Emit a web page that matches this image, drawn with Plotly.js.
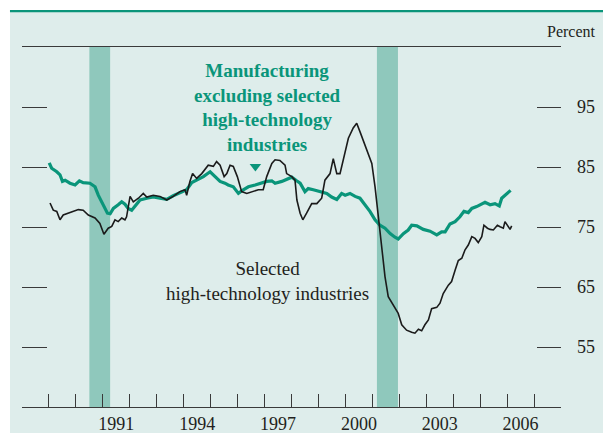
<!DOCTYPE html>
<html>
<head>
<meta charset="utf-8">
<script src="https://cdn.plot.ly/plotly-3.0.1.min.js"></script>
<style>html,body{margin:0;padding:0;background:#fff;}#chart{width:603px;height:433px;}</style>
</head>
<body>
<div id="chart"></div>
<script>
// Manufacturing excluding selected high-technology industries (capacity utilization, percent)
const mfgYears = [1989.01,1989.10,1989.29,1989.41,1989.50,1989.60,1989.78,1989.97,1990.13,1990.27,1990.52,1990.71,1990.83,1991.02,1991.17,1991.27,1991.39,1991.57,1991.70,1991.82,1991.94,1992.07,1992.38,1992.63,1992.87,1993.12,1993.37,1993.61,1993.86,1994.11,1994.30,1994.48,1994.73,1994.98,1995.16,1995.35,1995.53,1995.65,1995.84,1996.03,1996.21,1996.40,1996.65,1996.83,1997.08,1997.27,1997.39,1997.64,1997.82,1998.01,1998.19,1998.32,1998.50,1998.62,1998.81,1999.06,1999.31,1999.49,1999.68,1999.86,1999.99,2000.17,2000.36,2000.54,2000.73,2000.91,2001.10,2001.28,2001.47,2001.66,2001.84,2001.96,2002.15,2002.33,2002.46,2002.65,2002.89,2003.14,2003.39,2003.57,2003.70,2003.88,2004.07,2004.25,2004.40,2004.56,2004.69,2004.87,2005.18,2005.37,2005.55,2005.71,2005.80,2005.99,2006.13];
const mfgValues = [85.7,84.8,84.2,83.7,82.6,82.8,82.3,82.0,82.7,82.4,82.3,81.7,80.3,78.7,77.3,77.2,78.1,78.7,79.2,78.8,78.1,77.8,79.5,79.8,80.0,79.8,79.6,80.2,80.7,81.2,82.4,82.8,83.4,84.2,83.5,82.6,82.3,82.0,81.7,80.6,81.2,81.7,82.0,82.3,82.6,82.7,82.3,82.6,83.0,83.3,82.7,82.3,80.9,81.4,81.2,80.9,80.6,80.0,79.6,80.6,80.3,80.6,80.1,79.8,78.7,77.6,76.2,75.3,74.8,73.9,73.3,73.0,73.9,74.5,75.3,75.2,74.6,74.3,73.7,74.2,74.2,75.5,75.9,76.7,77.6,77.4,78.1,78.4,79.1,78.7,78.9,78.5,79.8,80.5,81.1];

// Selected high-technology industries
const hiTechYears = [1989.04,1989.16,1989.29,1989.41,1989.53,1989.66,1989.84,1990.09,1990.27,1990.46,1990.71,1990.89,1991.04,1991.20,1991.33,1991.45,1991.57,1991.70,1991.82,1991.88,1992.01,1992.13,1992.32,1992.50,1992.63,1992.87,1993.12,1993.37,1993.61,1993.86,1994.05,1994.11,1994.23,1994.33,1994.48,1994.67,1994.91,1995.10,1995.22,1995.35,1995.50,1995.60,1995.72,1995.84,1995.99,1996.15,1996.34,1996.58,1996.77,1996.95,1997.08,1997.27,1997.39,1997.57,1997.76,1997.82,1998.01,1998.13,1998.20,1998.32,1998.42,1998.56,1998.75,1998.94,1999.12,1999.24,1999.43,1999.55,1999.68,1999.80,1999.92,2000.11,2000.29,2000.42,2000.54,2000.66,2000.85,2000.98,2001.10,2001.22,2001.35,2001.47,2001.59,2001.78,2001.96,2002.09,2002.27,2002.46,2002.58,2002.71,2002.83,2002.95,2003.08,2003.20,2003.39,2003.51,2003.63,2003.82,2003.94,2004.07,2004.19,2004.32,2004.44,2004.56,2004.69,2004.81,2004.93,2005.06,2005.14,2005.27,2005.37,2005.49,2005.64,2005.74,2005.86,2005.92,2006.04,2006.11,2006.17];
const hiTechValues = [79.0,77.8,77.6,76.2,77.0,77.2,77.6,77.9,77.8,77.0,76.5,75.6,73.8,74.8,75.1,76.2,75.9,76.5,76.2,76.7,80.1,79.2,79.8,80.6,80.0,80.3,80.1,79.5,80.1,80.9,81.2,80.3,82.6,83.9,83.1,83.9,85.3,85.1,85.9,85.3,83.4,83.9,85.3,85.1,83.4,80.9,80.6,80.9,81.2,81.2,83.4,85.6,86.2,86.1,85.3,83.9,83.4,82.8,79.5,77.3,76.2,77.3,78.9,78.9,79.8,82.8,83.9,86.4,83.9,83.9,86.2,89.8,91.5,92.3,90.9,89.5,87.3,85.6,81.7,76.7,71.2,66.7,63.4,62.0,60.6,58.7,57.8,57.45,57.3,57.95,57.7,58.7,59.5,61.4,61.6,62.3,63.9,65.3,65.9,67.8,69.4,69.8,71.2,72.0,73.4,73.1,72.4,73.4,75.3,74.8,74.6,74.5,75.3,75.05,74.8,75.9,75.05,74.6,75.2];

// Recessions (shaded)
const recessionStarts = [1990.50, 2001.17];
const recessionEnds = [1991.27, 2001.95];

// Label pointer
const pointerX = [1996.66];
const pointerY = [85.1];

// Axes
const yTicks = [55, 65, 75, 85, 95];
const yearTicks = [];
for (let y = 1988; y <= 2008; y++) yearTicks.push(y);
const endTicks = [1988, 2008];
const labeledYears = [1991, 1994, 1997, 2000, 2003, 2006];
const labelPositions = labeledYears.map(y => y + 0.5);   // labels sit mid-year
const labelTexts = labeledYears.map(y => String(y));

const GREEN = '#0a957a';
const BAR = '#8fc8bc';
const BG = '#deedeb';
const SERIF = '"Liberation Serif", "Times New Roman", serif';
const XRANGE = [1988, 2008];
const YRANGE = [45, 105];

const traces = [
  {x: mfgYears, y: mfgValues, type: 'scatter', mode: 'lines',
   line: {color: GREEN, width: 3.2}, hoverinfo: 'skip', xaxis: 'x', yaxis: 'y'},
  {x: hiTechYears, y: hiTechValues, type: 'scatter', mode: 'lines',
   line: {color: '#1b1b1b', width: 1.6}, hoverinfo: 'skip', xaxis: 'x2', yaxis: 'y'},
  {x: pointerX, y: pointerY, type: 'scatter', mode: 'markers',
   marker: {symbol: 'triangle-down', size: 10, color: GREEN}, hoverinfo: 'skip', xaxis: 'x3', yaxis: 'y2'}
];

const shapes = [];
for (let i = 0; i < recessionStarts.length; i++) {
  shapes.push({type: 'rect', xref: 'x', yref: 'paper', x0: recessionStarts[i], x1: recessionEnds[i],
    y0: 0, y1: 1, fillcolor: BAR, line: {width: 0}, layer: 'below'});
}
// white frame strips and teal rule at top of the panel
shapes.push({type: 'rect', xref: 'paper', yref: 'paper', x0: -0.05, x1: -0.0223, y0: -0.1, y1: 1.2,
  fillcolor: '#ffffff', line: {width: 0}, layer: 'above'});
shapes.push({type: 'rect', xref: 'paper', yref: 'paper', x0: -0.05, x1: 1.1, y0: 1.1028, y1: 1.2,
  fillcolor: '#ffffff', line: {width: 0}, layer: 'above'});
shapes.push({type: 'rect', xref: 'paper', yref: 'paper', x0: -0.0223, x1: 1.1, y0: 1.0964, y1: 1.1028,
  fillcolor: '#0a957a', line: {width: 0}, layer: 'above'});

const tickStyle = {tickwidth: 1, tickcolor: '#3a3a3a'};

const layout = {
  width: 603, height: 433,
  margin: {l: 22, r: 42, t: 47, b: 26, pad: 0},
  paper_bgcolor: BG, plot_bgcolor: BG,
  showlegend: false,
  font: {family: SERIF, color: '#231f20', size: 18},
  xaxis: Object.assign({
    range: XRANGE, tickmode: 'array', tickvals: labelPositions, ticktext: labelTexts,
    ticks: '', ticklabelstandoff: 0,
    showline: true, linecolor: '#3a3a3a', linewidth: 1.2, mirror: true,
    showgrid: false, zeroline: false, fixedrange: true,
    tickfont: {family: SERIF, size: 18, color: '#231f20'}
  }, tickStyle),
  xaxis2: Object.assign({
    range: XRANGE, overlaying: 'x', anchor: 'y', side: 'bottom', tickmode: 'array', tickvals: yearTicks,
    ticks: 'inside', ticklen: 13, showticklabels: false,
    showline: false, showgrid: false, zeroline: false, fixedrange: true
  }, tickStyle),
  xaxis3: Object.assign({
    range: XRANGE, overlaying: 'x', anchor: 'y', side: 'bottom', tickmode: 'array', tickvals: endTicks,
    ticks: 'inside', ticklen: 18, showticklabels: false,
    showline: false, showgrid: false, zeroline: false, fixedrange: true
  }, tickStyle),
  yaxis: Object.assign({
    range: YRANGE, side: 'right', tickmode: 'array', tickvals: yTicks,
    ticks: 'inside', ticklen: 24, ticklabelstandoff: 15,
    showline: false, showgrid: false, zeroline: false, fixedrange: true,
    tickfont: {family: SERIF, size: 18, color: '#231f20'}
  }, tickStyle),
  yaxis2: Object.assign({
    range: YRANGE, side: 'left', overlaying: 'y', anchor: 'x', tickmode: 'array', tickvals: yTicks,
    ticks: 'inside', ticklen: 25,
    showticklabels: false, showline: false, showgrid: false, zeroline: false, fixedrange: true
  }, tickStyle),
  shapes: shapes,
  annotations: [
    {xref: 'paper', yref: 'paper', x: 1.0195, y: 1.0417, text: 'Percent', showarrow: false,
     xanchor: 'center', yanchor: 'middle', font: {family: SERIF, size: 16, color: '#231f20'}},
    {xref: 'x', yref: 'y', x: 1997.1, y: 94.9,
     text: '<b>Manufacturing<br>excluding selected<br>high-technology<br>industries</b>',
     showarrow: false, xanchor: 'center', yanchor: 'middle', align: 'center',
     font: {family: SERIF, size: 19, color: GREEN}},
    {xref: 'x', yref: 'y', x: 1997.1, y: 66.0,
     text: 'Selected<br>high-technology industries',
     showarrow: false, xanchor: 'center', yanchor: 'middle', align: 'center',
     font: {family: SERIF, size: 19, color: '#231f20'}}
  ]
};

Plotly.newPlot('chart', traces, layout, {displayModeBar: false, staticPlot: true});
</script>
</body>
</html>
